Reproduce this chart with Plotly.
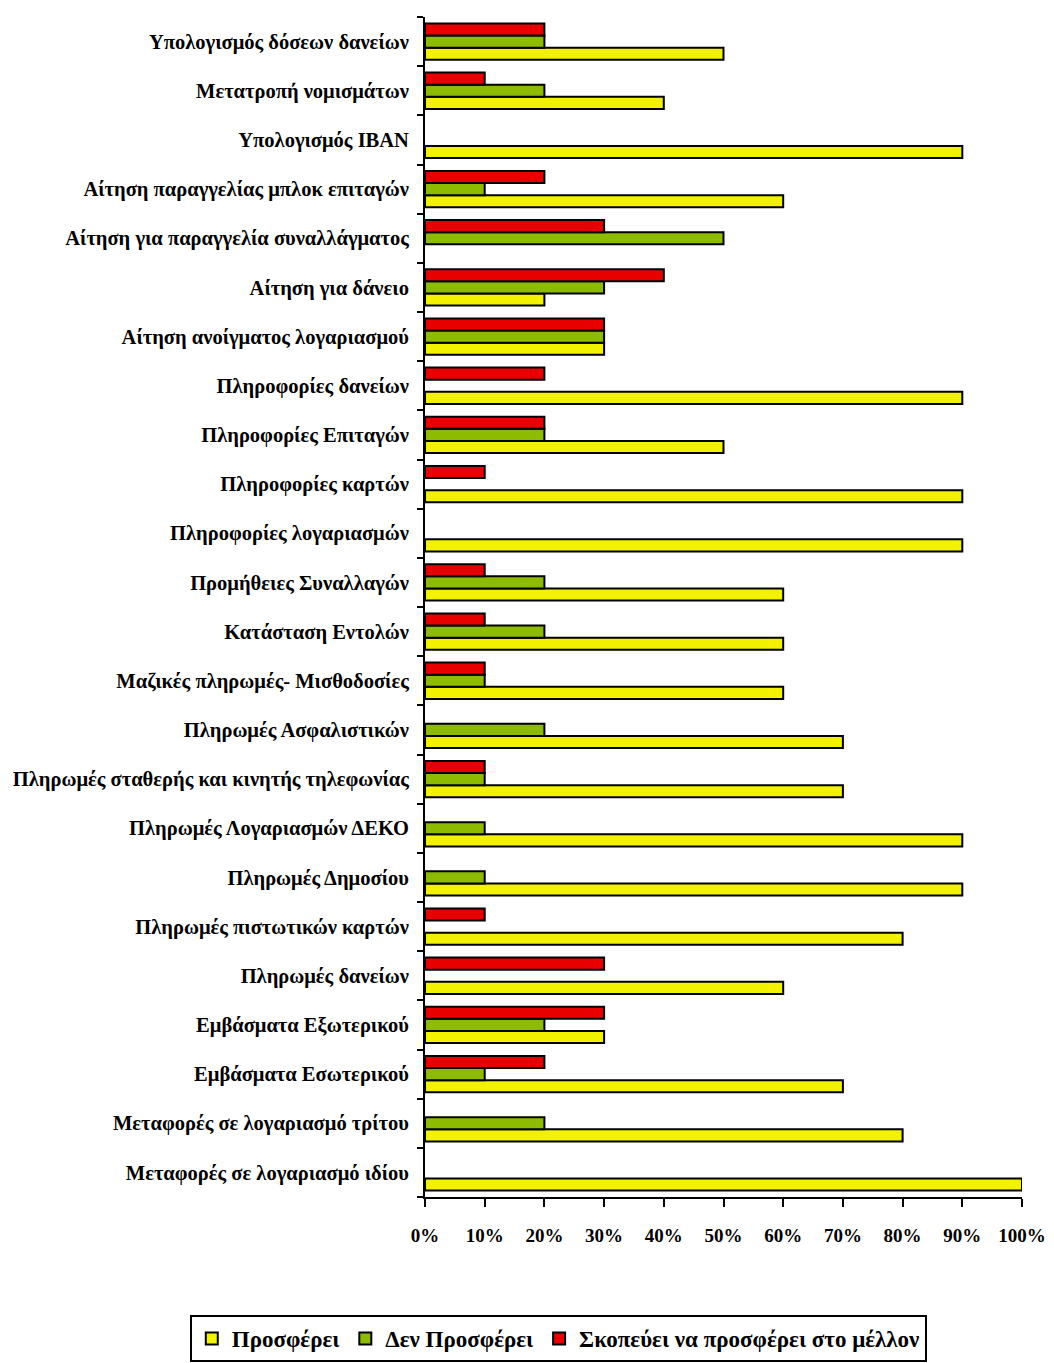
import plotly.graph_objects as go

# Services offered through e-banking, listed top to bottom
services = [
    "Υπολογισμός δόσεων δανείων",
    "Μετατροπή νομισμάτων",
    "Υπολογισμός IBAN",
    "Αίτηση παραγγελίας μπλοκ επιταγών",
    "Αίτηση για παραγγελία συναλλάγματος",
    "Αίτηση για δάνειο",
    "Αίτηση ανοίγματος λογαριασμού",
    "Πληροφορίες δανείων",
    "Πληροφορίες Επιταγών",
    "Πληροφορίες καρτών",
    "Πληροφορίες λογαριασμών",
    "Προμήθειες Συναλλαγών",
    "Κατάσταση Εντολών",
    "Μαζικές πληρωμές- Μισθοδοσίες",
    "Πληρωμές Ασφαλιστικών",
    "Πληρωμές σταθερής και κινητής τηλεφωνίας",
    "Πληρωμές Λογαριασμών ΔΕΚΟ",
    "Πληρωμές Δημοσίου",
    "Πληρωμές πιστωτικών καρτών",
    "Πληρωμές δανείων",
    "Εμβάσματα Εξωτερικού",
    "Εμβάσματα Εσωτερικού",
    "Μεταφορές σε λογαριασμό τρίτου",
    "Μεταφορές σε λογαριασμό ιδίου",
]

# Percentages per service (same order as above)
offers = [50, 40, 90, 60, 0, 20, 30, 90, 50, 90, 90, 60, 60, 60, 70, 70, 90, 90, 80, 60, 30, 70, 80, 100]
not_offer = [20, 20, 0, 10, 50, 30, 30, 0, 20, 0, 0, 20, 20, 10, 20, 10, 10, 10, 0, 0, 20, 10, 20, 0]
plans = [20, 10, 0, 20, 30, 40, 30, 20, 20, 10, 0, 10, 10, 10, 0, 10, 0, 0, 10, 30, 30, 20, 0, 0]

series_names = ["Προσφέρει", "Δεν Προσφέρει", "Σκοπεύει να προσφέρει στο μέλλον"]
series_values = [offers, not_offer, plans]
series_colors = ["#F2F200", "#8DBB00", "#E80000"]

x_ticks = list(range(0, 101, 10))

# Category axis runs bottom-up, so the first service is listed last
cat_order = services[::-1]

fig = go.Figure()
for name, vals, col in zip(series_names, series_values, series_colors):
    fig.add_trace(go.Bar(
        y=services,
        x=vals,
        name=name,
        orientation="h",
        marker=dict(
            color=col,
            # zero-valued bars get no outline so nothing shows at the axis
            line=dict(color="black", width=[2 if v > 0 else 0 for v in vals]),
        ),
    ))

serif = "Liberation Serif, Times New Roman, serif"

fig.update_layout(
    width=1054,
    height=1363,
    barmode="group",
    bargap=0.26,
    bargroupgap=0,
    plot_bgcolor="white",
    paper_bgcolor="white",
    margin=dict(l=425, r=32, t=17, b=166, autoexpand=False),
    font=dict(family=serif, color="black"),
    showlegend=True,
    legend=dict(
        orientation="h",
        x=-0.394,
        xanchor="left",
        y=-0.1,
        yanchor="top",
        bordercolor="black",
        borderwidth=2,
        font=dict(family=serif, size=23, color="black", weight="bold"),
        traceorder="normal",
        itemwidth=30,
        tracegroupgap=0,
    ),
    xaxis=dict(
        range=[0, 100],
        tickvals=x_ticks,
        ticktext=[f"<b>{v}%</b>" for v in x_ticks],
        showgrid=False,
        zeroline=False,
        showline=True,
        linecolor="black",
        linewidth=2,
        ticks="outside",
        ticklen=8,
        tickwidth=2,
        tickcolor="black",
        ticklabelstandoff=12,
        tickfont=dict(family=serif, size=19, color="black"),
        fixedrange=True,
    ),
    yaxis=dict(
        type="category",
        categoryorder="array",
        categoryarray=cat_order,
        tickvals=cat_order,
        ticktext=[f"<b>{c}</b>" for c in cat_order],
        showgrid=False,
        showline=True,
        linecolor="black",
        linewidth=2,
        ticks="outside",
        tickson="boundaries",
        ticklen=6,
        tickwidth=2,
        tickcolor="black",
        ticklabelstandoff=10,
        tickfont=dict(family=serif, size=20.5, color="black"),
        fixedrange=True,
    ),
)

fig.write_html("out.html")
